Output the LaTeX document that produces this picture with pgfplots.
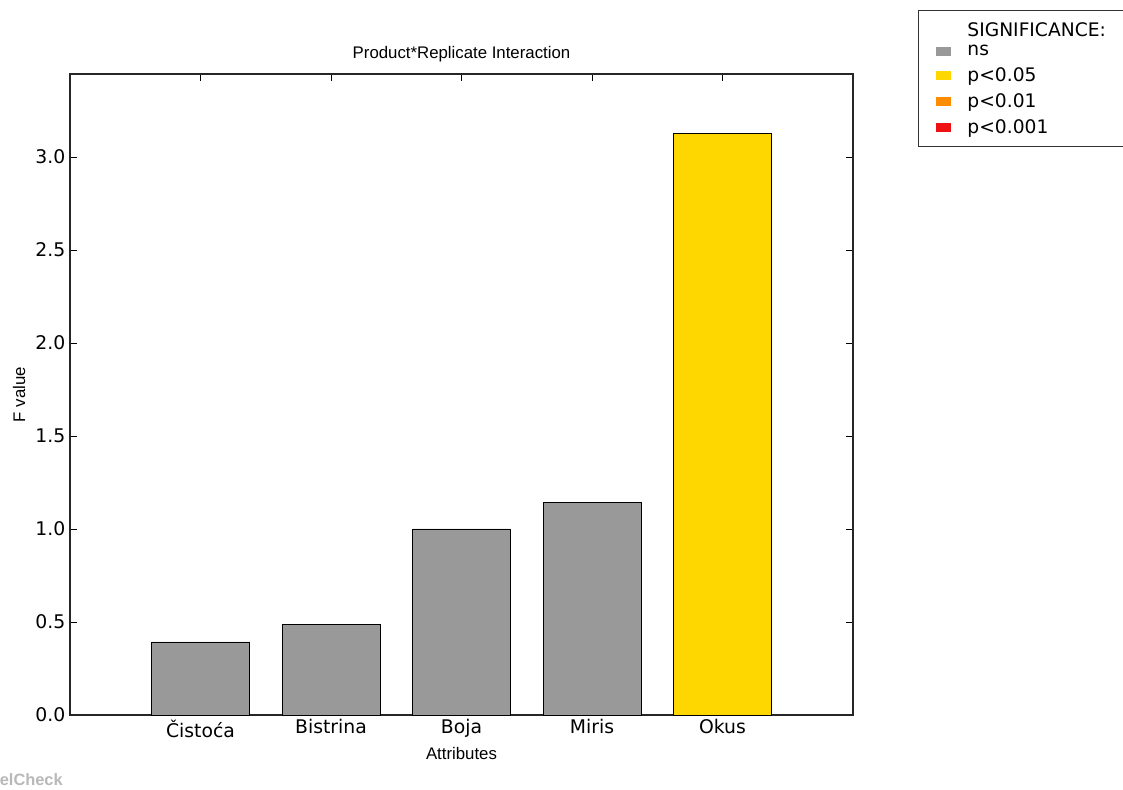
\documentclass[border=0pt]{standalone}
\usepackage{fontspec}
\setmainfont{Liberation Sans}
\newfontfamily\dejavu{DejaVu Sans}
\usepackage{pgfplots}
\pgfplotsset{compat=1.18}
\definecolor{nsgray}{HTML}{999999}
\definecolor{sigA}{HTML}{FFD700}
\definecolor{sigB}{HTML}{FF8C00}
\definecolor{sigC}{HTML}{EE1111}
\begin{document}
\begin{tikzpicture}
\useasboundingbox (0,0) rectangle (842.25pt,591.75pt);
\begin{axis}[
  at={(52.5pt,55.5pt)}, anchor=south west,
  scale only axis, width=587.25pt, height=480.75pt,
  xmin=-1, xmax=5, ymin=0, ymax=3.446,
  xtick={0,1,2,3,4},
  xticklabels={Čistoća,Bistrina,Boja,Miris,Okus},
  ytick={0,0.5,1,1.5,2,2.5,3},
  yticklabel style={/pgf/number format/.cd, fixed, fixed zerofill, precision=1},
  /pgf/number format/assume math mode=true,
  ticklabel style={font=\dejavu\fontsize{14.1}{16}\selectfont},
  tick align=inside, tick pos=both,
  major tick length=5.25pt,
  tick style={line width=0.6pt, black},
  axis line style={line width=1.4pt, black!85},
  title={Product*Replicate Interaction},
  title style={font=\fontsize{12.6}{15}\selectfont, at={(0.5,1.0187)}, anchor=center, yshift=0pt},
  xlabel={Attributes},
  ylabel={F value},
  xlabel style={font=\fontsize{12.6}{15}\selectfont, at={(0.5,-0.0593)}, anchor=center},
  ylabel style={font=\fontsize{12.6}{15}\selectfont, at={(-0.0651,0.5)}, anchor=center},
  legend style={at={(1.083,1.0998)}, anchor=north west, draw=black!80, line width=0.6pt,
    font=\dejavu\fontsize{14}{16}\selectfont, row sep=3.6pt, column sep=10.5pt,
    inner xsep=9pt, inner ysep=6.6pt},
  legend cell align=left,
]
\addplot[ybar, bar width=0.75, bar shift=0pt, fill=nsgray, draw=black, line width=0.6pt, forget plot]
  coordinates {(0,0.393) (1,0.485) (2,1.0) (3,1.143)};
\addplot[ybar, bar width=0.75, bar shift=0pt, fill=sigA, draw=black, line width=0.6pt, forget plot]
  coordinates {(4,3.128)};
\addlegendimage{empty legend}
\addlegendentry{\raisebox{-3pt}[8pt][0pt]{SIGNIFICANCE:}\rule{40pt}{0pt}}
\addlegendimage{legend image code/.code={\fill[nsgray] (4.5pt,-3pt) rectangle (15pt,3pt);}}
\addlegendentry{ns}
\addlegendimage{legend image code/.code={\fill[sigA] (4.5pt,-3pt) rectangle (15pt,3pt);}}
\addlegendentry{p<0.05}
\addlegendimage{legend image code/.code={\fill[sigB] (4.5pt,-3pt) rectangle (15pt,3pt);}}
\addlegendentry{p<0.01}
\addlegendimage{legend image code/.code={\fill[sigC] (4.5pt,-3pt) rectangle (15pt,3pt);}}
\addlegendentry{p<0.001}
\end{axis}
\node[anchor=base east, text=black!28, font=\bfseries\fontsize{12.3}{14}\selectfont, inner sep=0pt] at (47.25pt,3pt) {elCheck};
\end{tikzpicture}
\end{document}
